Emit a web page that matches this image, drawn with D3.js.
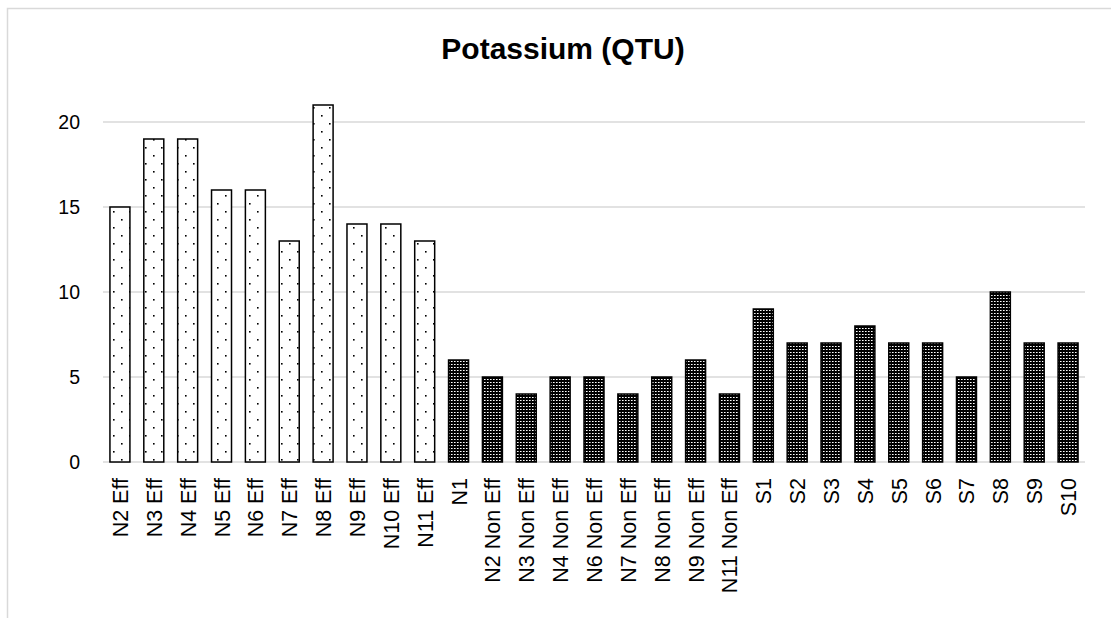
<!DOCTYPE html>
<html>
<head>
<meta charset="utf-8">
<script src="https://cdn.jsdelivr.net/npm/d3@7"></script>
<style>
  html, body { margin: 0; padding: 0; background: #fff; }
  svg { display: block; }
</style>
</head>
<body>
<svg id="chart" width="1111" height="618"></svg>
<script>
// Potassium readings per sample
const categories = [
  "N2 Eff", "N3 Eff", "N4 Eff", "N5 Eff", "N6 Eff", "N7 Eff", "N8 Eff", "N9 Eff", "N10 Eff", "N11 Eff",
  "N1", "N2 Non Eff", "N3 Non Eff", "N4 Non Eff", "N6 Non Eff", "N7 Non Eff", "N8 Non Eff", "N9 Non Eff", "N11 Non Eff",
  "S1", "S2", "S3", "S4", "S5", "S6", "S7", "S8", "S9", "S10"
];
const values = [
  15, 19, 19, 16, 16, 13, 21, 14, 14, 13,
  6, 5, 4, 5, 5, 4, 5, 6, 4,
  9, 7, 7, 8, 7, 7, 5, 10, 7, 7
];
// effluent samples get the light dotted fill, the rest the dark fill
const groups = categories.map(c => / Eff$/.test(c) && !/Non Eff$/.test(c) ? "eff" : "other");
const yTicks = [0, 5, 10, 15, 20];
const title = "Potassium (QTU)";

const svg = d3.select("#chart");
const W = 1111, H = 618;
const plot = { left: 103, right: 1085, top: 122, bottom: 462 };
const font = "Liberation Sans, Arial, sans-serif";

// fill patterns
const defs = svg.append("defs");
const light = defs.append("pattern")
  .attr("id", "dotsLight").attr("patternUnits", "userSpaceOnUse")
  .attr("width", 16).attr("height", 16);
light.append("rect").attr("width", 16).attr("height", 16).attr("fill", "#fff");
light.append("rect").attr("x", 1).attr("y", 3).attr("width", 1.6).attr("height", 1.6).attr("fill", "#000");
light.append("rect").attr("x", 9).attr("y", 11).attr("width", 1.6).attr("height", 1.6).attr("fill", "#000");

const dark = defs.append("pattern")
  .attr("id", "dotsDark").attr("patternUnits", "userSpaceOnUse")
  .attr("width", 3).attr("height", 3);
dark.append("rect").attr("width", 3).attr("height", 3).attr("fill", "#000");
dark.append("rect").attr("x", 1).attr("y", 1).attr("width", 1.6).attr("height", 1).attr("fill", "#fff");

// outer frame
svg.append("rect")
  .attr("x", 7.5).attr("y", 8.5).attr("width", W + 20).attr("height", H + 20)
  .attr("fill", "none").attr("stroke", "#d9d9d9").attr("stroke-width", 1.5);

// title
svg.append("text")
  .attr("x", 563).attr("y", 59)
  .attr("text-anchor", "middle")
  .attr("font-family", font)
  .attr("font-weight", "bold").attr("font-size", 30)
  .attr("fill", "#000")
  .text(title);

const x = d3.scaleBand().domain(categories).range([plot.left, plot.right]).paddingInner(0.41).paddingOuter(0.205);
const y = d3.scaleLinear().domain([0, 20]).range([plot.bottom, plot.top]);

// gridlines
svg.append("g").selectAll("line").data(yTicks).join("line")
  .attr("x1", plot.left).attr("x2", plot.right)
  .attr("y1", d => y(d)).attr("y2", d => y(d))
  .attr("stroke", "#d9d9d9").attr("stroke-width", 1.5);

// y axis labels
const yAxis = svg.append("g")
  .attr("transform", `translate(${plot.left - 23},0)`)
  .call(d3.axisLeft(y).tickValues(yTicks).tickSize(0).tickPadding(0));
yAxis.select(".domain").remove();
yAxis.selectAll("text")
  .attr("font-family", font)
  .attr("font-size", 19.5).attr("fill", "#000");

// bars
svg.append("g").selectAll("rect").data(values).join("rect")
  .attr("x", (d, i) => x(categories[i]))
  .attr("width", x.bandwidth())
  .attr("y", d => y(d))
  .attr("height", d => y(0) - y(d))
  .attr("fill", (d, i) => groups[i] === "eff" ? "url(#dotsLight)" : "url(#dotsDark)")
  .attr("stroke", "#000").attr("stroke-width", 1.5);

// x axis labels
const xAxis = svg.append("g")
  .attr("transform", `translate(0,${plot.bottom})`)
  .call(d3.axisBottom(x).tickSize(0).tickPadding(0));
xAxis.select(".domain").remove();
xAxis.selectAll("text")
  .attr("font-family", font)
  .attr("font-size", 21.5).attr("fill", "#000")
  .attr("text-anchor", "end")
  .attr("dy", null)
  .attr("transform", "translate(8,16) rotate(-90)");
</script>
</body>
</html>
